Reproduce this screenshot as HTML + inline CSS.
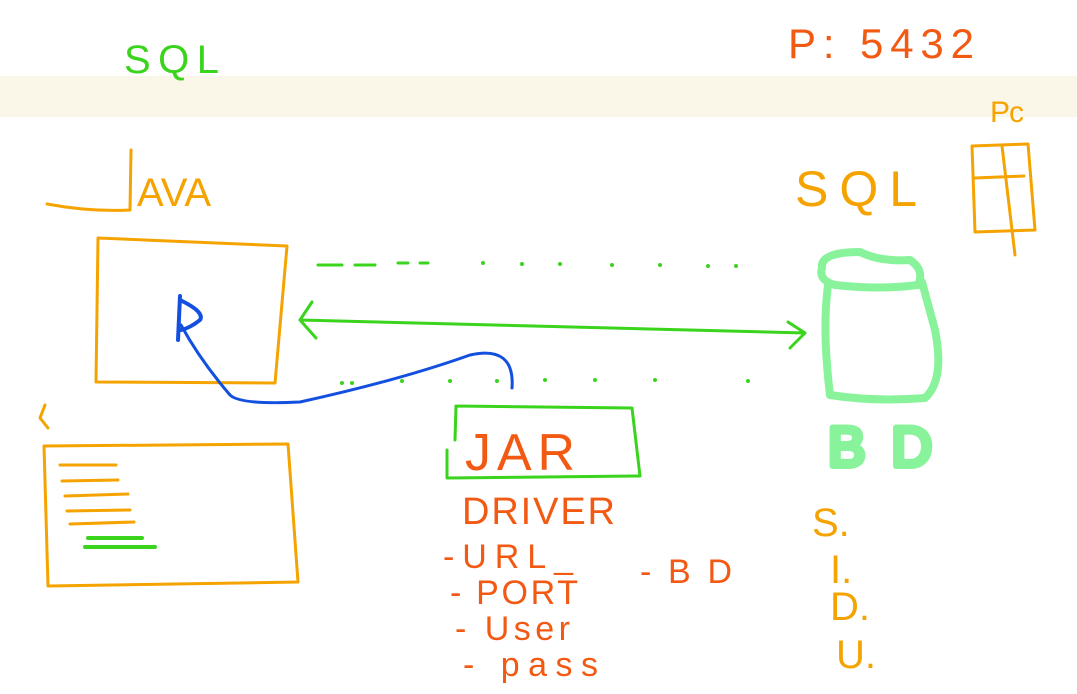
<!DOCTYPE html>
<html><head><meta charset="utf-8"><style>
html,body{margin:0;padding:0;background:#fff;width:1077px;height:694px;overflow:hidden}
svg{display:block}
text{font-family:"Liberation Sans",sans-serif}
</style></head><body>
<svg width="1077" height="694" viewBox="0 0 1077 694" xmlns="http://www.w3.org/2000/svg">
<rect x="0" y="76" width="1077" height="41" fill="#faf7e9"/>
<g fill="none" stroke-linecap="round" stroke-linejoin="round">
<text x="124" y="73" font-size="40" fill="#3ad41c" textLength="95">SQL</text>
<text x="788" y="58" font-size="42" fill="#f25a14" textLength="186">P: 5432</text>
<text x="990" y="122" font-size="30" fill="#f5a300" textLength="34">Pc</text>
<path d="M47 204 Q90 212 130 210 L131 150" stroke="#f5a300" stroke-width="3"/>
<text x="137" y="206" font-size="40" fill="#f5a300">AVA</text>
<path d="M98 238 L287 246 L275 383 L96 382 Z" stroke="#f5a300" stroke-width="3"/>
<path d="M180 296 L178 340 M180 300 Q205 312 200 320 Q190 328 181 330" stroke="#1450e0" stroke-width="4"/>
<path d="M512 388 Q515 345 470 355 Q400 380 300 402 Q240 405 230 395 Q200 360 181 325" stroke="#1450e0" stroke-width="3"/>
<path d="M318 265 L342 265 M355 265 L375 265 M398 263 L408 263 M420 263 L428 263" stroke="#3ad41c" stroke-width="3"/>
<g fill="#3ad41c" stroke="none">
<circle cx="483" cy="263" r="2"/><circle cx="522" cy="264" r="2"/><circle cx="560" cy="264" r="2"/><circle cx="612" cy="265" r="2"/><circle cx="660" cy="265" r="2"/><circle cx="708" cy="266" r="2"/><circle cx="736" cy="266" r="2"/>
<circle cx="342" cy="383" r="2"/><circle cx="352" cy="383" r="2"/><circle cx="402" cy="381" r="2"/><circle cx="450" cy="381" r="2"/><circle cx="497" cy="381" r="2"/><circle cx="545" cy="380" r="2"/><circle cx="595" cy="380" r="2"/><circle cx="655" cy="380" r="2"/><circle cx="748" cy="381" r="2"/>
</g>
<path d="M300 320 Q550 326 805 333 M312 302 L300 320 L316 338 M788 322 L805 333 L790 348" stroke="#3ad41c" stroke-width="3"/>
<path d="M822 268 Q820 252 860 252 Q880 262 910 260 Q925 270 918 285 Q880 290 835 285 Q818 280 822 268 Z M828 285 Q822 330 830 395 Q875 402 925 398 Q945 380 935 330 L922 282" stroke="#88f39a" stroke-width="8"/>
<text x="828" y="466" font-size="56" fill="none" stroke="#88f39a" stroke-width="6" textLength="104">BD</text>
<text x="795" y="206" font-size="50" fill="#f5a300" textLength="122">SQL</text>
<path d="M972 146 L1028 144 L1035 230 L975 232 Z M975 178 L1024 176 M1002 146 L1015 255" stroke="#f5a300" stroke-width="3"/>
<path d="M45 405 L40 418 L48 428" stroke="#f5a300" stroke-width="3"/>
<path d="M44 446 L288 444 L298 582 L48 586 Z" stroke="#f5a300" stroke-width="3"/>
<path d="M60 465 L116 465 M62 481 L118 480 M65 496 L128 494 M67 511 L130 510 M70 524 L134 522" stroke="#f5a300" stroke-width="3"/>
<path d="M88 538 L142 538 M85 547 L155 547" stroke="#3ad41c" stroke-width="4"/>
<path d="M456 406 L632 408 L640 476 L447 478 L447 450 M456 406 L455 440" stroke="#3ad41c" stroke-width="3"/>
<text x="465" y="470" font-size="52" fill="#f25a14" textLength="110">JAR</text>
<text x="462" y="524" font-size="38" fill="#f25a14" textLength="153">DRIVER</text>
<g fill="#f25a14" font-size="34">
<text x="443" y="568" textLength="130">-URL_</text>
<text x="450" y="604" textLength="128">- PORT</text>
<text x="455" y="640" textLength="115">- User</text>
<text x="463" y="676" textLength="135">- pass</text>
<text x="640" y="583" textLength="92">-BD</text>
</g>
<g fill="#f5a300" font-size="40">
<text x="812" y="536">S.</text>
<text x="830" y="583">I.</text>
<text x="830" y="620">D.</text>
<text x="836" y="668">U.</text>
</g>
</g>
</svg>
</body></html>
